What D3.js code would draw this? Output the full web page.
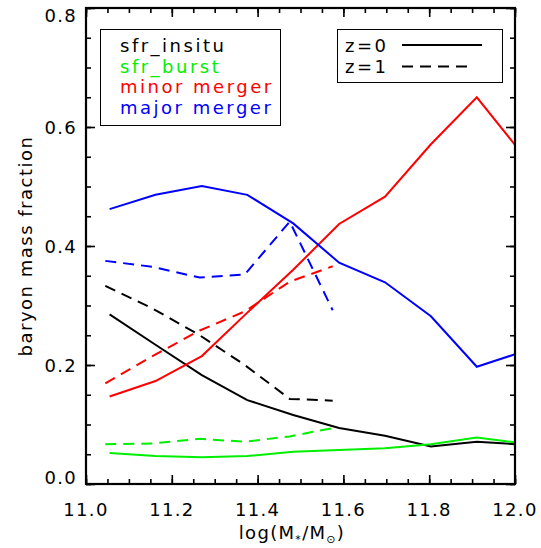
<!DOCTYPE html>
<html>
<head>
<meta charset="utf-8">
<script src="https://cdn.jsdelivr.net/npm/d3@7"></script>
<style>
  body { margin: 0; background: #fff; }
  text { font-family: "DejaVu Sans", sans-serif; }
</style>
</head>
<body>
<script>
// z=0 bins
var mass0 = [11.055, 11.162, 11.27, 11.376, 11.483, 11.59, 11.697, 11.804, 11.911, 12.0];
var insitu0 = [0.285, 0.234, 0.183, 0.141, 0.116, 0.094, 0.081, 0.063, 0.071, 0.067];
var burst0 = [0.052, 0.047, 0.045, 0.047, 0.054, 0.057, 0.060, 0.067, 0.078, 0.070];
var minor0 = [0.147, 0.173, 0.215, 0.288, 0.360, 0.437, 0.483, 0.571, 0.650, 0.570];
var major0 = [0.462, 0.486, 0.501, 0.486, 0.438, 0.372, 0.339, 0.282, 0.197, 0.218];

// z=1 bins
var mass1 = [11.045, 11.155, 11.265, 11.37, 11.475, 11.575];
var insitu1 = [0.333, 0.295, 0.250, 0.200, 0.143, 0.140];
var burst1 = [0.067, 0.068, 0.076, 0.071, 0.080, 0.094];
var minor1 = [0.169, 0.215, 0.258, 0.290, 0.340, 0.366];
var major1 = [0.375, 0.365, 0.347, 0.352, 0.441, 0.292];

var seriesNames = ['sfr_insitu', 'sfr_burst', 'minor merger', 'major merger'];
var seriesColors = ['#000000', '#00ee00', '#ff0000', '#0000ff'];
var xTicks = [11.0, 11.2, 11.4, 11.6, 11.8, 12.0];
var yTicks = [0.0, 0.2, 0.4, 0.6, 0.8];

var W = 541, H = 548;
var pL = 86, pR = 515, pT = 8, pB = 484;

var x = d3.scaleLinear().domain([11.0, 12.0]).range([pL, pR]);
var y = d3.scaleLinear().domain([0, 0.8]).range([pB, pT]);

var svg = d3.select('body').append('svg')
    .attr('width', W).attr('height', H);

var minorX = d3.range(11.0, 12.0001, 0.05);
var minorY = d3.range(0, 0.8001, 0.05);

// ticks, all four sides, pointing in
function ticks(axisFn, scale, vals, size, tr){
    var g = svg.append('g').attr('transform', tr)
        .call(axisFn(scale).tickValues(vals).tickSizeInner(-size).tickSizeOuter(0).tickFormat(''));
    g.select('.domain').remove();
    g.selectAll('line').attr('stroke', '#000').attr('stroke-width', 1.6);
    return g;
}
ticks(d3.axisBottom, x, minorX, 5, 'translate(0,' + pB + ')');
ticks(d3.axisBottom, x, xTicks, 9, 'translate(0,' + pB + ')');
ticks(d3.axisTop, x, minorX, 5, 'translate(0,' + pT + ')');
ticks(d3.axisTop, x, xTicks, 9, 'translate(0,' + pT + ')');
ticks(d3.axisLeft, y, minorY, 5, 'translate(' + pL + ',0)');
ticks(d3.axisLeft, y, yTicks, 9, 'translate(' + pL + ',0)');
ticks(d3.axisRight, y, minorY, 5, 'translate(' + pR + ',0)');
ticks(d3.axisRight, y, yTicks, 9, 'translate(' + pR + ',0)');

// tick labels
svg.append('g').selectAll('text').data(xTicks).enter().append('text')
    .attr('x', function(d){ return x(d); })
    .attr('y', 516)
    .attr('text-anchor', 'middle')
    .attr('font-size', 18).attr('letter-spacing', 1.3)
    .text(function(d){ return d.toFixed(1); });

svg.append('g').selectAll('text').data(yTicks).enter().append('text')
    .attr('x', 77)
    .attr('y', function(d){ return Math.min(Math.max(y(d), 15.5), 477.5) + 6.5; })
    .attr('text-anchor', 'end')
    .attr('font-size', 18).attr('letter-spacing', 1.3)
    .text(function(d){ return d.toFixed(1); });

// axis titles
var xt = svg.append('text')
    .attr('x', 292).attr('y', 539)
    .attr('text-anchor', 'middle')
    .attr('font-size', 18).attr('letter-spacing', 1.3);
xt.append('tspan').text('log(M');
xt.append('tspan').attr('font-size', 11).attr('dy', 4).text('*');
xt.append('tspan').attr('dy', -4).text('/M');
xt.append('tspan').attr('font-size', 11).attr('dy', 4).text('\u2299');
xt.append('tspan').attr('dy', -4).text(')');

svg.append('text')
    .attr('transform', 'translate(32,' + ((pT + pB) / 2) + ') rotate(-90)')
    .attr('text-anchor', 'middle')
    .attr('font-size', 18).attr('letter-spacing', 1.5)
    .text('baryon mass fraction');

// curves
var line = d3.line()
    .x(function(d){ return x(d[0]); })
    .y(function(d){ return y(d[1]); });

var z0 = [insitu0, burst0, minor0, major0];
var z1 = [insitu1, burst1, minor1, major1];

var plot = svg.append('g');
z0.forEach(function(vals, i){
    plot.append('path')
        .datum(d3.zip(mass0, vals))
        .attr('d', line)
        .attr('fill', 'none')
        .attr('stroke', seriesColors[i])
        .attr('stroke-width', 2);
});
z1.forEach(function(vals, i){
    plot.append('path')
        .datum(d3.zip(mass1, vals))
        .attr('d', line)
        .attr('fill', 'none')
        .attr('stroke', seriesColors[i])
        .attr('stroke-width', 2)
        .attr('stroke-dasharray', '11,7');
});

// frame
svg.append('rect')
    .attr('x', pL).attr('y', pT)
    .attr('width', pR - pL).attr('height', pB - pT)
    .attr('fill', 'none').attr('stroke', '#000').attr('stroke-width', 2.2);

// legend: components
svg.append('rect')
    .attr('x', 100.5).attr('y', 29.5).attr('width', 180).attr('height', 96)
    .attr('fill', '#fff').attr('stroke', '#000').attr('stroke-width', 1);
svg.append('g').selectAll('text').data(seriesNames).enter().append('text')
    .attr('x', 120)
    .attr('y', function(d, i){ return 52 + i * 20.7; })
    .attr('font-size', 18).attr('letter-spacing', 2.5)
    .attr('fill', function(d, i){ return seriesColors[i]; })
    .text(function(d){ return d; });

// legend: redshift
var zLabels = ['z=0', 'z=1'];
var zDash = [null, '11,7'];
svg.append('rect')
    .attr('x', 337.5).attr('y', 29.5).attr('width', 165).attr('height', 53)
    .attr('fill', '#fff').attr('stroke', '#000').attr('stroke-width', 1);
zLabels.forEach(function(t, i){
    svg.append('text')
        .attr('x', 345).attr('y', 52 + i * 20.8)
        .attr('font-size', 18).attr('letter-spacing', 2.5)
        .text(t);
    svg.append('line')
        .attr('x1', 402).attr('x2', i ? 472 : 482)
        .attr('y1', 45 + i * 21.5).attr('y2', 45 + i * 21.5)
        .attr('stroke', '#000').attr('stroke-width', 2)
        .attr('stroke-dasharray', zDash[i]);
});
</script>
</body>
</html>
